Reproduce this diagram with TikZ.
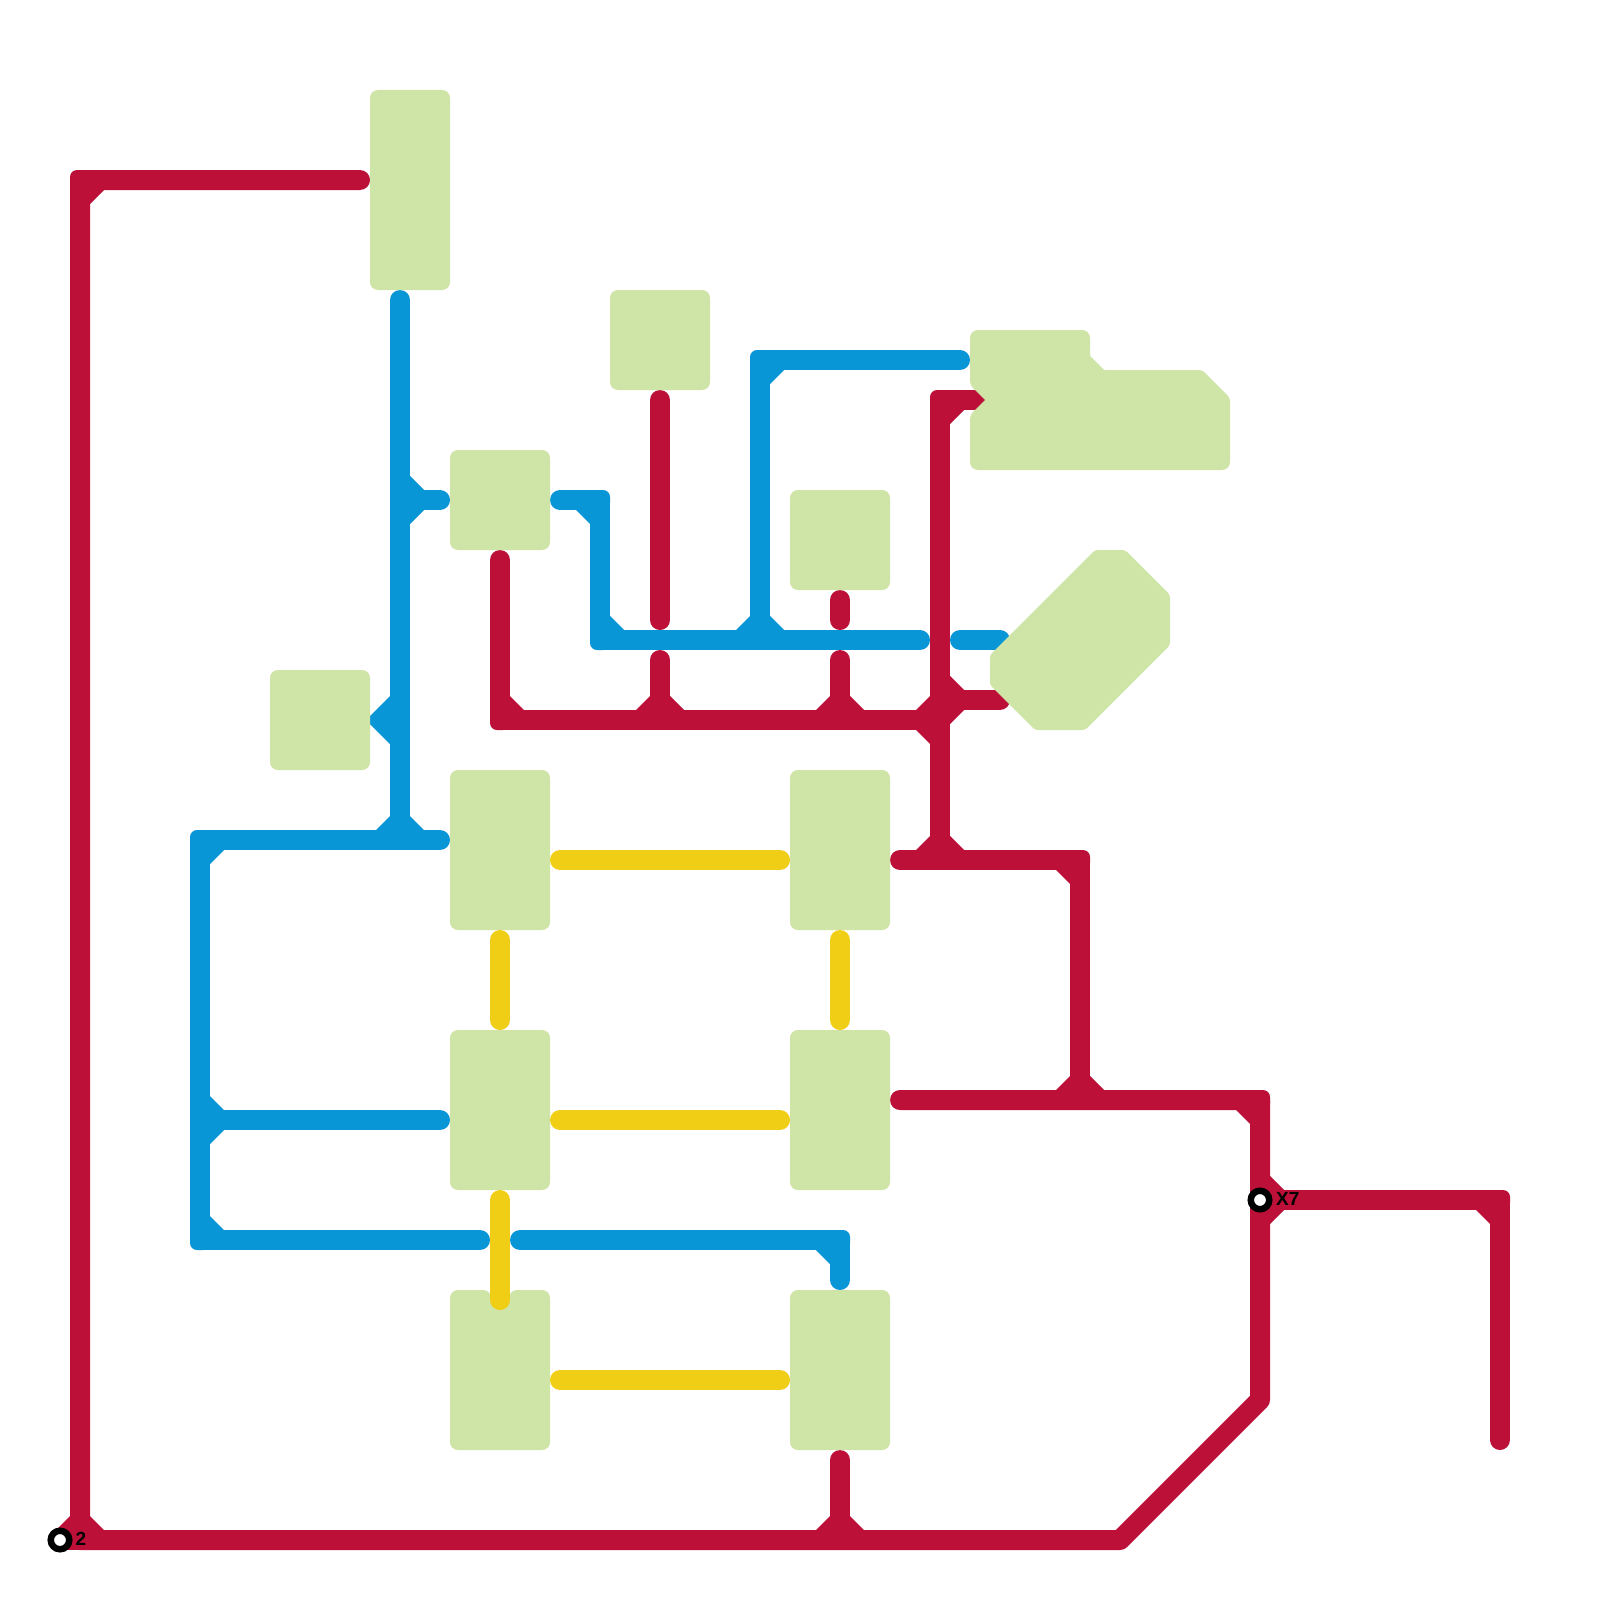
\documentclass[tikz,border=0pt]{standalone}
\usepackage{fontspec}
\setmainfont{Liberation Sans}
\definecolor{mred}{HTML}{BD1038}
\definecolor{mblue}{HTML}{0896D7}
\definecolor{myellow}{HTML}{F0CE15}
\definecolor{mgreen}{HTML}{CFE4A7}
\newcommand{\fillet}[5]{\fill[#1] ({#2+14*(#4)},#3) -- (#2,{#3+14*(#5)}) -- ({#2-2*(#4)},{#3-2*(#5)}) -- cycle;}
\newcommand{\outercorner}[5]{\fill[#1,rounded corners=7pt] ({#2-10*(#4)},{#3-10*(#5)}) rectangle ({#2+10*(#4)},{#3+10*(#5)});}
\tikzset{
  railred/.style={draw=mred,line width=20pt,line cap=round,line join=round},
  railblue/.style={draw=mblue,line width=20pt,line cap=round,line join=round},
  railyellow/.style={draw=myellow,line width=20pt,line cap=round,line join=round},
  zone/.style={fill=mgreen,rounded corners=8pt,inner sep=0pt,outer sep=0pt,draw=none},
  terminal/.style={circle,draw=black,fill=white,line width=6.5pt,minimum size=18.5pt,inner sep=0pt,outer sep=0pt},
  termlabel/.style={anchor=base west,inner sep=0pt,text=black,font=\fontsize{19}{19}\selectfont\bfseries}
}
\begin{document}
\begin{tikzpicture}[x=1pt,y=-1pt]
\useasboundingbox (0,0) rectangle (1600,1600);
\fill[white] (0,0) rectangle (1600,1600);
% ---- named vertices
\foreach \n/\x/\y in {
 ra/360/180,rb/80/180,rc/80/1540,rc0/60/1540,rd/1120/1540,re/1260/1400,rf/1260/1100,rg/900/1100,
 rh/840/1460,ri/840/1540,
 rj/500/560,rk/500/720,rl/940/720,
 rm/980/400,rn/940/400,ro/940/860,
 rp/940/700,rq/1000/700,
 rr/900/860,rs/1080/860,rt/1080/1100,
 ru/660/400,rv/660/620,rw/660/660,rx/660/720,
 ry/840/600,rz/840/620,raa/840/660,rab/840/720,
 rac/1260/1200,rad/1500/1200,rae/1500/1440,
 ba/400/300,bb/400/840,bc/400/500,bd/440/500,
 bg/440/840,bh/200/840,bi/200/1240,bj/480/1240,bk/200/1120,bl/440/1120,
 bm/520/1240,bn/840/1240,bo/840/1280,
 bp/560/500,bq/600/500,br/600/640,bs/920/640,
 bt/760/640,bu/760/360,bv/960/360,bw/960/640,bx/1000/640,
 ya/560/860,yb/780/860,yc/500/940,yd/500/1020,ye/840/940,yf/840/1020,
 yg/560/1120,yh/780/1120,yi/500/1200,yj/500/1300,yk/560/1380,yl/780/1380}
 {\coordinate (\n) at (\x,\y);}
% ---- red lines
\draw[railred] (ra) -- (rb) -- (rc) -- (rd) -- (re) -- (rf) -- (rg);
\draw[railred] (rc0) -- (rc);
\draw[railred] (rh) -- (ri);
\draw[railred] (rj) -- (rk) -- (rl);
\draw[railred] (rm) -- (rn) -- (ro);
\draw[railred] (rp) -- (rq);
\draw[railred] (rr) -- (rs) -- (rt);
\draw[railred] (ru) -- (rv);
\draw[railred] (rw) -- (rx);
\draw[railred] (ry) -- (rz);
\draw[railred] (raa) -- (rab);
\draw[railred] (rac) -- (rad) -- (rae);
\outercorner{mred}{80}{180}{-1}{-1}
\outercorner{mred}{1080}{860}{1}{-1}
\outercorner{mred}{1260}{1100}{1}{-1}
\outercorner{mred}{1500}{1200}{1}{-1}
\outercorner{mred}{940}{400}{-1}{-1}
\outercorner{mred}{500}{720}{-1}{1}
\fillet{mred}{90}{190}{1}{1}
\fillet{mred}{70}{1530}{-1}{-1}
\fillet{mred}{90}{1530}{1}{-1}
\fillet{mred}{830}{1530}{-1}{-1}
\fillet{mred}{850}{1530}{1}{-1}
\fillet{mred}{510}{710}{1}{-1}
\fillet{mred}{650}{710}{-1}{-1}
\fillet{mred}{670}{710}{1}{-1}
\fillet{mred}{830}{710}{-1}{-1}
\fillet{mred}{850}{710}{1}{-1}
\fillet{mred}{930}{710}{-1}{-1}
\fillet{mred}{930}{730}{-1}{1}
\fillet{mred}{950}{690}{1}{-1}
\fillet{mred}{950}{710}{1}{1}
\fillet{mred}{950}{410}{1}{1}
\fillet{mred}{930}{850}{-1}{-1}
\fillet{mred}{950}{850}{1}{-1}
\fillet{mred}{1070}{870}{-1}{1}
\fillet{mred}{1070}{1090}{-1}{-1}
\fillet{mred}{1090}{1090}{1}{-1}
\fillet{mred}{1250}{1110}{-1}{1}
\fillet{mred}{1270}{1190}{1}{-1}
\fillet{mred}{1270}{1210}{1}{1}
\fillet{mred}{1490}{1210}{-1}{1}
% ---- blue lines
\draw[railblue] (ba) -- (bb);
\draw[railblue] (bc) -- (bd);
\draw[railblue] (bg) -- (bh) -- (bi) -- (bj);
\draw[railblue] (bk) -- (bl);
\draw[railblue] (bm) -- (bn) -- (bo);
\draw[railblue] (bp) -- (bq) -- (br) -- (bs);
\draw[railblue] (bt) -- (bu) -- (bv);
\draw[railblue] (bw) -- (bx);
\outercorner{mblue}{200}{840}{-1}{-1}
\outercorner{mblue}{200}{1240}{-1}{1}
\outercorner{mblue}{840}{1240}{1}{-1}
\outercorner{mblue}{600}{500}{1}{-1}
\outercorner{mblue}{600}{640}{-1}{1}
\outercorner{mblue}{760}{360}{-1}{-1}
\fill[mblue] (395,691) -- (390,696) [rounded corners=6pt] -- (366,720) [sharp corners] -- (390,744) -- (395,749) -- cycle;
\fillet{mblue}{410}{490}{1}{-1}
\fillet{mblue}{410}{510}{1}{1}
\fillet{mblue}{390}{830}{-1}{-1}
\fillet{mblue}{410}{830}{1}{-1}
\fillet{mblue}{210}{850}{1}{1}
\fillet{mblue}{210}{1110}{1}{-1}
\fillet{mblue}{210}{1130}{1}{1}
\fillet{mblue}{210}{1230}{1}{-1}
\fillet{mblue}{830}{1250}{-1}{1}
\fillet{mblue}{590}{510}{-1}{1}
\fillet{mblue}{610}{630}{1}{-1}
\fillet{mblue}{750}{630}{-1}{-1}
\fillet{mblue}{770}{630}{1}{-1}
\fillet{mblue}{770}{370}{1}{1}
% ---- green zones
\foreach \n/\xa/\ya/\xb/\yb in {
 za/370/90/450/290, zb/610/290/710/390, zc/450/450/550/550, zd/790/490/890/590,
 ze/270/670/370/770, zf/450/770/550/930, zg/790/770/890/930, zh/450/1030/550/1190,
 zi/790/1030/890/1190, zk/790/1290/890/1450}
 {\path[zone] (\xa,\ya) rectangle (\xb,\yb);}
\fill[mgreen,rounded corners=8pt] (450,1290) -- (491,1290) -- (491,1302) -- (509,1302) -- (509,1290) -- (550,1290) -- (550,1450) -- (450,1450) -- cycle;
\fill[mgreen] (985,400) [rounded corners=4pt] -- (970,385) [rounded corners=8pt] -- (970,330) -- (1090,330) [sharp corners] -- (1090,356) -- (1104,370) [rounded corners=3pt] -- (1202,370) -- (1230,398) [rounded corners=8pt] -- (1230,470) -- (970,470) [rounded corners=4pt] -- (970,415) [sharp corners] -- cycle;
\fill[mgreen,rounded corners=3pt] (1095,550) -- (1125,550) -- (1170,595) -- (1170,645) -- (1085,730) -- (1035,730) -- (990,685) -- (990,655) -- cycle;
% ---- yellow lines
\draw[railyellow] (ya) -- (yb);
\draw[railyellow] (yc) -- (yd);
\draw[railyellow] (ye) -- (yf);
\draw[railyellow] (yg) -- (yh);
\draw[railyellow] (yi) -- (yj);
\draw[railyellow] (yk) -- (yl);
% ---- terminals
\node[terminal] (t2) at (rc0) {};
\node[terminal] (t7) at (rac) {};
\node[termlabel] (l2) at (75.5,1545) {2};
\node[termlabel] (l7) at (1276,1205.5) {X7};
\end{tikzpicture}
\end{document}
